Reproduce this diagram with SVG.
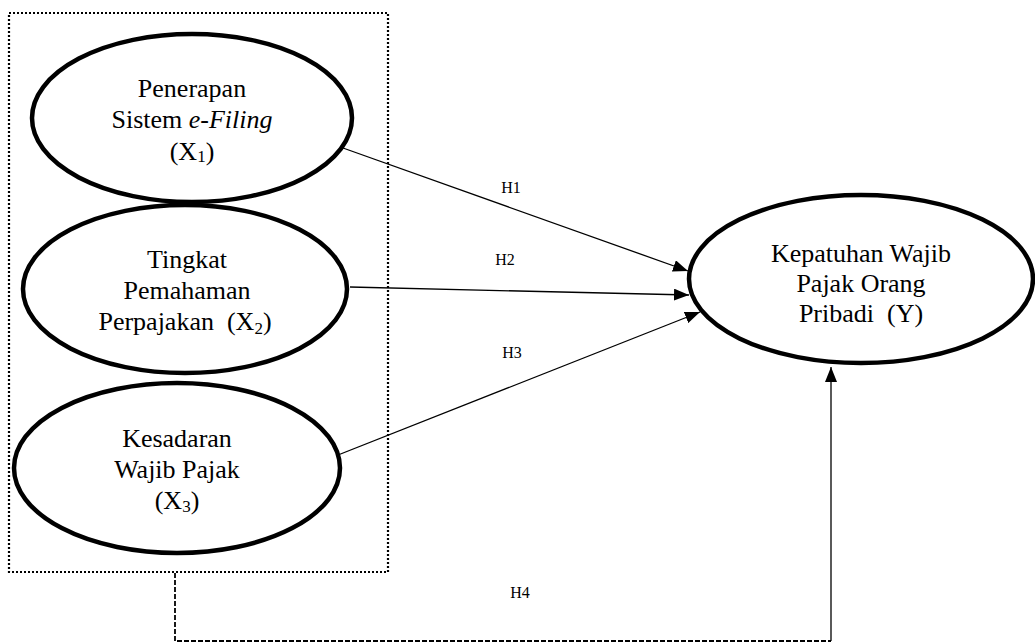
<svg xmlns="http://www.w3.org/2000/svg" width="1035" height="644" viewBox="0 0 1035 644">
<style>
  .node { fill: #fff; stroke: #000; stroke-width: 4.5; }
  .t { font-family: "Liberation Serif", "Times New Roman", serif; font-size: 26px; fill: #000; text-anchor: middle; }
  .sub { font-size: 17px; }
  .h { font-family: "Liberation Serif", "Times New Roman", serif; font-size: 16px; fill: #000; text-anchor: middle; }
  .edge { stroke: #000; stroke-width: 1.3; fill: none; }
  .dash { stroke: #000; stroke-width: 1.8; fill: none; stroke-dasharray: 5 2; }
  .dots { stroke: #000; stroke-width: 2.2; fill: none; stroke-dasharray: 2 2; }
</style>
<defs>
  <marker id="arr" markerUnits="userSpaceOnUse" markerWidth="15" markerHeight="12" refX="15" refY="6" orient="auto">
    <path d="M0,0 L15,6 L0,12 z" fill="#000"/>
  </marker>
</defs>
<rect width="1035" height="644" fill="#fff"/>

<g id="group-box">
  <rect class="dots" x="9" y="13" width="379" height="559"/>
</g>

<g id="connectors">
  <line class="edge" x1="343" y1="148" x2="688" y2="271" marker-end="url(#arr)"/>
  <line class="edge" x1="350" y1="287" x2="689" y2="295" marker-end="url(#arr)"/>
  <line class="edge" x1="338" y1="455" x2="700" y2="312" marker-end="url(#arr)"/>
  <polyline class="dash" points="175,573 175,641 831,641"/>
  <line class="edge" x1="831" y1="641" x2="831" y2="367" stroke-width="1.8" marker-end="url(#arr)"/>
  <text class="h" x="511" y="193">H1</text>
  <text class="h" x="505" y="265">H2</text>
  <text class="h" x="512" y="358">H3</text>
  <text class="h" x="520" y="598">H4</text>
</g>

<g id="x1">
  <ellipse class="node" cx="192" cy="118" rx="160" ry="84"/>
  <text class="t" x="192" y="97">Penerapan</text>
  <text class="t" x="192" y="128">Sistem <tspan font-style="italic">e-Filing</tspan></text>
  <text class="t" x="192" y="160">(X<tspan class="sub" dy="2">1</tspan><tspan dy="-2">)</tspan></text>
</g>

<g id="x2">
  <ellipse class="node" cx="185" cy="289" rx="162" ry="84"/>
  <text class="t" x="187" y="268">Tingkat</text>
  <text class="t" x="187" y="299">Pemahaman</text>
  <text class="t" x="185" y="330" xml:space="preserve">Perpajakan  (X<tspan class="sub" dy="4">2</tspan><tspan dy="-4">)</tspan></text>
</g>

<g id="x3">
  <ellipse class="node" cx="177" cy="468" rx="163" ry="85"/>
  <text class="t" x="177" y="447">Kesadaran</text>
  <text class="t" x="177" y="478">Wajib Pajak</text>
  <text class="t" x="177" y="509">(X<tspan class="sub" dy="3">3</tspan><tspan dy="-3">)</tspan></text>
</g>

<g id="y">
  <ellipse class="node" cx="861" cy="279" rx="172" ry="84"/>
  <text class="t" x="861" y="262">Kepatuhan Wajib</text>
  <text class="t" x="861" y="292">Pajak Orang</text>
  <text class="t" x="861" y="322" xml:space="preserve">Pribadi  (Y)</text>
</g>
</svg>
